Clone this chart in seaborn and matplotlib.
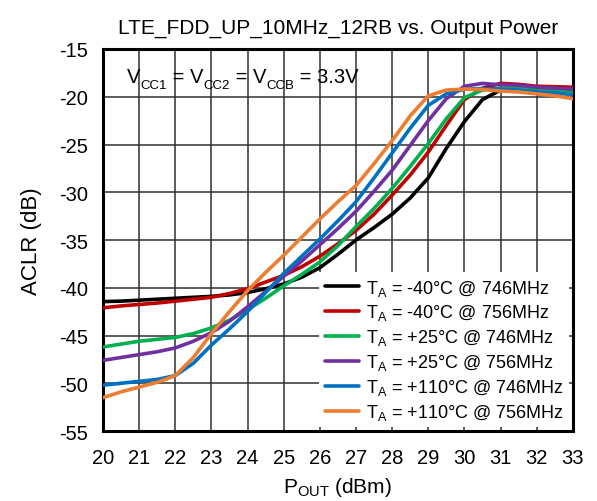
import numpy as np
import pandas as pd
import matplotlib
matplotlib.use("Agg")
import matplotlib.pyplot as plt
import seaborn as sns
from matplotlib.lines import Line2D

# ---- data ----
pout = [20, 20.5, 21, 21.5, 22, 22.5, 23, 23.5, 24, 24.5, 25, 25.5, 26, 26.5,
        27, 27.5, 28, 28.5, 29, 29.5, 30, 30.5, 31, 31.5, 32, 32.5, 33]

m40_746 = [-41.45, -41.4, -41.3, -41.2, -41.1, -41.0, -40.9, -40.75, -40.5, -40.1,
           -39.6, -38.9, -37.9, -36.5, -35.0, -33.7, -32.3, -30.6, -28.5, -25.4,
           -22.6, -20.3, -19.3, -19.2, -19.3, -19.4, -19.5]
m40_756 = [-42.1, -41.9, -41.75, -41.6, -41.4, -41.2, -41.0, -40.6, -40.1, -39.4,
           -38.7, -37.8, -36.7, -35.4, -34.0, -32.3, -30.3, -28.2, -25.8, -23.0,
           -20.3, -19.1, -18.6, -18.7, -18.9, -18.95, -19.0]
p25_746 = [-46.2, -45.9, -45.6, -45.4, -45.2, -44.8, -44.2, -43.4, -42.3, -41.1,
           -39.8, -38.6, -37.3, -35.6, -33.6, -31.7, -29.6, -27.3, -24.9, -22.3,
           -20.1, -19.3, -19.1, -19.1, -19.3, -19.4, -19.5]
p25_756 = [-47.6, -47.3, -47.0, -46.7, -46.3, -45.6, -44.7, -43.5, -42.0, -40.4,
           -38.8, -37.2, -35.5, -33.8, -32.0, -29.9, -27.7, -25.1, -22.5, -20.2,
           -18.9, -18.6, -18.75, -18.8, -19.0, -19.1, -19.2]
p110_746 = [-50.2, -50.0, -49.8, -49.6, -49.2, -47.9, -46.0, -44.3, -42.5, -40.5,
            -38.5, -36.7, -34.9, -33.0, -31.0, -28.5, -25.9, -23.3, -20.9, -19.7,
            -19.2, -19.15, -19.2, -19.3, -19.5, -19.6, -19.8]
p110_756 = [-51.5, -50.9, -50.4, -49.9, -49.2, -47.3, -44.8, -42.5, -40.3, -38.4,
            -36.6, -34.7, -32.8, -31.0, -29.3, -27.0, -24.6, -22.0, -19.9, -19.3,
            -19.2, -19.25, -19.4, -19.5, -19.7, -19.9, -20.2]

series_labels = [
    r"T$_\mathregular{A}$ = -40°C @ 746MHz",
    r"T$_\mathregular{A}$ = -40°C @ 756MHz",
    r"T$_\mathregular{A}$ = +25°C @ 746MHz",
    r"T$_\mathregular{A}$ = +25°C @ 756MHz",
    r"T$_\mathregular{A}$ = +110°C @ 746MHz",
    r"T$_\mathregular{A}$ = +110°C @ 756MHz",
]
series_values = [m40_746, m40_756, p25_746, p25_756, p110_746, p110_756]
colors = ["#000000", "#C00000", "#00B050", "#7030A0", "#0070C0", "#ED7D31"]

x_ticks = list(range(20, 34))
y_ticks = list(range(-55, -14, 5))

title = "LTE_FDD_UP_10MHz_12RB vs. Output Power"
# annotation pieces: (text, is_subscript)
annot_pieces = [("V", False), ("CC1", True), (" = V", False), ("CC2", True),
                (" = V", False), ("CCB", True), (" = 3.3V", False)]

# ---- build table ----
rows = []
for lab, vals in zip(series_labels, series_values):
    for x, y in zip(pout, vals):
        rows.append({"Pout": x, "ACLR": y, "series": lab})
df = pd.DataFrame(rows)

# ---- style ----
sns.set_theme(style="white")
plt.rcParams["font.family"] = ["Liberation Sans", "DejaVu Sans"]
plt.rcParams["mathtext.default"] = "regular"
plt.rcParams["mathtext.fontset"] = "custom"
plt.rcParams["mathtext.rm"] = "Liberation Sans"
plt.rcParams["axes.unicode_minus"] = False
for key in ["text.color", "axes.labelcolor", "xtick.color", "ytick.color"]:
    plt.rcParams[key] = "black"

fig = plt.figure(figsize=(5.97, 5.02), dpi=100)
ax = fig.add_axes([0.1725, 0.1394, 0.787, 0.761])

sns.lineplot(data=df, x="Pout", y="ACLR", hue="series", hue_order=series_labels,
             palette=colors, linewidth=2.6, ax=ax, legend=False, zorder=3)

ax.set_xlim(20, 33)
ax.set_ylim(-55, -15)
ax.set_xticks(x_ticks)
ax.set_yticks(y_ticks)
ax.set_xticklabels([str(t) for t in x_ticks])
ax.set_yticklabels([str(t) for t in y_ticks])
ax.grid(True, color="#303030", linewidth=1.1)
ax.set_axisbelow(True)
for s in ax.spines.values():
    s.set_color("black")
    s.set_linewidth(2.2)
ax.tick_params(direction="in", length=5, width=1, colors="black",
               labelsize=14.5)
ax.tick_params(axis="x", pad=12)
ax.tick_params(axis="y", pad=11)

ax.set_title(title, fontsize=15, pad=12, color="black")
ax.set_xlabel(r"P$_\mathregular{OUT}$ (dBm)", fontsize=15, labelpad=6)
ax.set_ylabel("ACLR (dB)", fontsize=16, labelpad=12)

# annotation built from pieces with smaller, lowered subscripts
prev = ax.text(0.051, 0.902, annot_pieces[0][0], transform=ax.transAxes,
               fontsize=14.5, ha="left", va="bottom", zorder=5)
prev_sub = False
for txt, sub in annot_pieces[1:]:
    if sub:
        dy = -3.0
    elif prev_sub:
        dy = 3.0
    else:
        dy = 0.0
    prev = ax.annotate(txt, xy=(1, 0), xycoords=prev, xytext=(0, dy),
                       textcoords="offset points", fontsize=9.5 if sub else 14.5,
                       ha="left", va="bottom", zorder=5)
    prev_sub = sub

handles = [Line2D([0], [0], color=c, linewidth=2.6) for c in colors]
leg = ax.legend(handles, series_labels, loc="lower right", bbox_to_anchor=(1.0, 0.0),
                fontsize=13, frameon=True, fancybox=False, framealpha=1.0,
                edgecolor="none", facecolor="white", handlelength=1.9,
                handletextpad=0.4, labelspacing=0.27, borderpad=0.3,
                borderaxespad=0.2)
leg.set_zorder(4)

fig.savefig("out.png", dpi=100)
